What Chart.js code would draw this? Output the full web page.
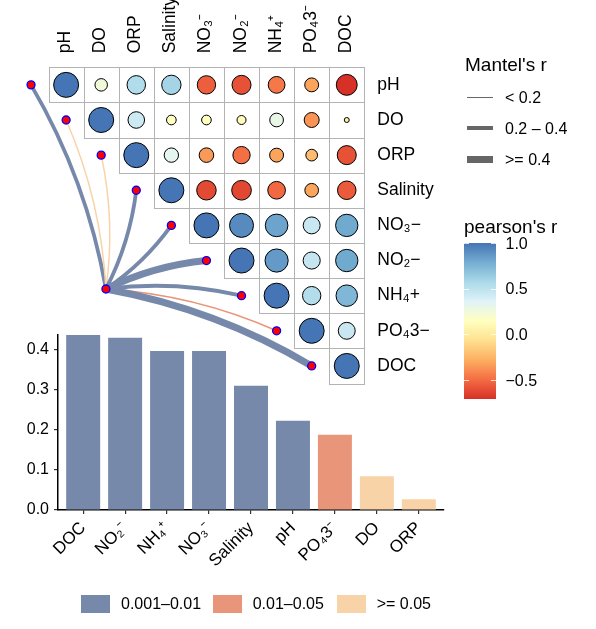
<!DOCTYPE html>
<html><head><meta charset="utf-8">
<script src="https://cdn.jsdelivr.net/npm/chart.js@4"></script>
<style>
html,body{margin:0;padding:0;background:#fff;}
#wrap{position:relative;width:596px;height:629px;overflow:hidden;font-family:'Liberation Sans',Arial,sans-serif;color:#000;}
canvas{position:absolute;left:0;top:0;}
.t{position:absolute;white-space:nowrap;line-height:1;}
</style></head>
<body><div id="wrap">
<canvas id="bars" width="512" height="629" style="width:512px;height:629px;z-index:1"></canvas>
<canvas id="mat" width="596" height="629" style="width:596px;height:629px;z-index:2"></canvas>
<div id="leg" style="position:absolute;left:0;top:0;width:596px;height:629px;z-index:3"></div>
</div>
<script>
// ---------- data ----------
const vars = ['pH','DO','ORP','Salinity','NO3','NO2','NH4','PO4','DOC'];
const colLabels = ['pH','DO','ORP','Salinity','NO₃⁻','NO₂⁻','NH₄⁺','PO₄3⁻','DOC'];
const rowLabels = ['pH','DO','ORP','Salinity','NO₃−','NO₂−','NH₄+','PO₄3−','DOC'];
// pearson's r, upper triangle, each row starts at the diagonal
const rPH  = [1, 0.25, 0.55, 0.60, -0.54, -0.58, -0.45, -0.31, -0.70];
const rDO  = [1, 0.44, 0.15, 0.15, 0.13, 0.30, -0.36, 0.04];
const rORP = [1, 0.33, -0.34, -0.48, -0.31, -0.22, -0.58];
const rSal = [1, -0.61, -0.62, -0.50, -0.30, -0.55];
const rNO3 = [1, 0.92, 0.82, 0.46, 0.80];
const rNO2 = [1, 0.86, 0.47, 0.80];
const rNH4 = [1, 0.54, 0.74];
const rPO4 = [1, 0.46];
const rDOC = [1];
const corrRows = [rPH, rDO, rORP, rSal, rNO3, rNO2, rNH4, rPO4, rDOC];
// Mantel test (matrix order)
const mantelR = [0.223, 0.084, 0.027, 0.310, 0.397, 0.430, 0.397, 0.188, 0.437];
const mantelP = ['0.001-0.01','>= 0.05','>= 0.05','0.001-0.01','0.001-0.01','0.001-0.01','0.001-0.01','0.01-0.05','0.001-0.01'];
// bar chart order
const barOrder  = ['DOC','NO2','NH4','NO3','Salinity','pH','PO4','DO','ORP'];
const barLabels = ['DOC','NO₂⁻','NH₄⁺','NO₃⁻','Salinity','pH','PO₄3⁻','DO','ORP'];
const barTicks = [0, 0.1, 0.2, 0.3, 0.4];
// legends
const pLevels = ['0.001-0.01','0.01-0.05','>= 0.05'];
const pLevelLabels = ['0.001–0.01','0.01–0.05','>= 0.05'];
const rClassLabels = ['< 0.2','0.2 – 0.4','>= 0.4'];
const colorTicks = [1.0, 0.5, 0.0, -0.5];

// ---------- styles ----------
const FONT = "'Liberation Sans', Arial, sans-serif";
const pColors = {'0.001-0.01':'#7789AB','0.01-0.05':'#E9957A','>= 0.05':'#F9D3A8'};
const stops = ['#d73027','#f46d43','#fdae61','#fee090','#ffffbf','#e0f3f8','#abd9e9','#74add1','#4575b4'];
const allR = corrRows.flat();
const cMin = Math.min(...allR), cMax = 1;
function hex(c){return [1,3,5].map(i=>parseInt(c.substr(i,2),16));}
function colorFor(v){
  let t=(v-cMin)/(cMax-cMin); t=Math.max(0,Math.min(1,t));
  const p=t*(stops.length-1); const i=Math.min(Math.floor(p),stops.length-2); const f=p-i;
  const a=hex(stops[i]), b=hex(stops[i+1]);
  return 'rgb('+a.map((c,k)=>Math.round(c+(b[k]-c)*f)).join(',')+')';
}
function widthFor(r){ return r<0.2?1.5:(r<0.4?3.8:7); }
const widthSamples = [0.1, 0.3, 0.5];
const HUB = {x:1.135, y:5.81};

// ---------- bar chart ----------
const barMax = Math.max(...mantelR);
new Chart(document.getElementById('bars'), {
  type:'bar',
  data:{datasets:[{
    data: barOrder.map((k,i)=>({x:i, y:mantelR[vars.indexOf(k)]})),
    backgroundColor: barOrder.map(k=>pColors[mantelP[vars.indexOf(k)]]),
    borderWidth:0, barPercentage:0.81, categoryPercentage:1
  }]},
  options:{
    responsive:false, animation:false, events:[],
    layout:{padding:{left:0,right:512-444,top:335,bottom:0}},
    plugins:{legend:{display:false},tooltip:{enabled:false}},
    scales:{
      x:{type:'linear', min:-0.6, max:8.6, offset:false,
        afterBuildTicks:s=>{s.ticks=barOrder.map((_,i)=>({value:i}));},
        afterFit:s=>{s.height=629-510;},
        ticks:{callback:v=>barLabels[v], minRotation:45, maxRotation:45, autoSkip:false,
          font:{family:FONT,size:17}, color:'#000', padding:4},
        grid:{offset:false, drawOnChartArea:false, drawTicks:true, tickLength:4, color:'#333', lineWidth:1.2},
        border:{display:true,color:'#000',width:1.5}},
      y:{min:0, max:barMax,
        afterBuildTicks:s=>{s.ticks=barTicks.map(v=>({value:v}));},
        afterFit:s=>{s.width=58;},
        ticks:{callback:v=>v.toFixed(1), font:{family:FONT,size:16}, color:'#000', padding:5},
        grid:{drawOnChartArea:false, drawTicks:true, tickLength:4, color:'#333', lineWidth:1.2},
        border:{display:true,color:'#000',width:1.5}}
    }
  }
});

// ---------- correlation matrix + Mantel links ----------
const cells=[];
corrRows.forEach((row,i)=>row.forEach((v,k)=>cells.push({x:i+k,y:i,v})));
const nodes = vars.map((_,i)=>({x:i-1,y:i})).concat([{x:HUB.x,y:HUB.y}]);

const matPlugin = {
  id:'matrixExtras',
  beforeDatasetsDraw(chart){
    const {ctx, scales:{x,y}} = chart;
    ctx.save();
    ctx.strokeStyle='#b3b3b3'; ctx.lineWidth=1;
    corrRows.forEach((row,i)=>row.forEach((v,k)=>{
      const j=i+k;
      const x0=Math.round(x.getPixelForValue(j-0.5))+0.5, x1=Math.round(x.getPixelForValue(j+0.5))+0.5;
      const y0=Math.round(y.getPixelForValue(i-0.5))+0.5, y1=Math.round(y.getPixelForValue(i+0.5))+0.5;
      ctx.fillStyle='#fff'; ctx.fillRect(x0,y0,x1-x0,y1-y0);
      ctx.strokeRect(x0,y0,x1-x0,y1-y0);
    }));
    const hx=x.getPixelForValue(HUB.x), hy=y.getPixelForValue(HUB.y);
    vars.forEach((_,i)=>{
      const px=x.getPixelForValue(i-1), py=y.getPixelForValue(i);
      const dx=px-hx, dy=py-hy, L=Math.hypot(dx,dy);
      const side = i<=4 ? 1 : -1;
      const k=0.09*L*side;
      const cx=(hx+px)/2 + (-dy/L)*k, cy=(hy+py)/2 + (dx/L)*k;
      ctx.beginPath(); ctx.moveTo(hx,hy); ctx.quadraticCurveTo(cx,cy,px,py);
      ctx.strokeStyle=pColors[mantelP[i]]; ctx.lineWidth=widthFor(mantelR[i]); ctx.lineCap='butt';
      ctx.stroke();
    });
    ctx.fillStyle='#000'; ctx.font='17.5px '+FONT; ctx.textAlign='left'; ctx.textBaseline='alphabetic';
    colLabels.forEach((t,j)=>{
      ctx.save();
      ctx.translate(x.getPixelForValue(j)+4, y.getPixelForValue(-0.5)-14);
      ctx.rotate(-Math.PI/2); ctx.fillText(t,0,0); ctx.restore();
    });
    ctx.restore();
  }
};

new Chart(document.getElementById('mat'), {
  type:'scatter',
  data:{datasets:[
    {data:nodes, clip:false, pointRadius:4, pointHoverRadius:4, backgroundColor:'#ff0000', borderColor:'#0000ff', borderWidth:1.3},
    {data:cells, clip:false,
      pointRadius:c=>c.raw?12.5*Math.sqrt(Math.abs(c.raw.v)):0,
      pointHoverRadius:c=>c.raw?12.5*Math.sqrt(Math.abs(c.raw.v)):0,
      backgroundColor:c=>c.raw?colorFor(c.raw.v):'#000', borderColor:'#000', borderWidth:1}
  ]},
  options:{
    responsive:false, animation:false, events:[],
    layout:{padding:{left:48.3-35.11,right:0,top:67.3,bottom:629-383.5}},
    plugins:{legend:{display:false},tooltip:{enabled:false}},
    scales:{
      x:{type:'linear',min:-1.5,max:8.5,display:false},
      y:{type:'linear',min:-0.5,max:8.5,reverse:true,position:'right',
        afterBuildTicks:s=>{s.ticks=rowLabels.map((_,i)=>({value:i}));},
        afterFit:s=>{s.width=596-364.3;},
        ticks:{callback:v=>rowLabels[v], font:{family:FONT,size:17.5}, color:'#000', padding:13},
        grid:{display:false, drawTicks:false}, border:{display:false}}
    }
  },
  plugins:[matPlugin]
});

// ---------- legends (HTML) ----------
const leg=document.getElementById('leg');
function txt(s,l,t,size){const d=document.createElement('div');d.className='t';d.textContent=s;d.style.left=l+'px';d.style.top=t+'px';d.style.fontSize=size+'px';leg.appendChild(d);return d;}
function box(l,t,w,h,bg){const d=document.createElement('div');d.style.cssText='position:absolute;left:'+l+'px;top:'+t+'px;width:'+w+'px;height:'+h+'px;background:'+bg;leg.appendChild(d);return d;}
// Mantel's r
txt("Mantel's r",465,54.6,19);
const lineYs=[97.3,128.3,159.3];
rClassLabels.forEach((s,i)=>{
  const w=widthFor(widthSamples[i]);
  box(467,lineYs[i]-w/2,26,w,'#666');
  txt(s,505,lineYs[i]-7.8,16);
});
// pearson's r colorbar
txt("pearson's r",464,216.5,19);
const cbTop=243.3, cbH=155.7;
box(464,cbTop,32,cbH,'linear-gradient(to bottom,'+stops.slice().reverse().join(',')+')');
colorTicks.forEach(v=>{
  const yy=cbTop+(cMax-v)/(cMax-cMin)*cbH;
  box(464,yy-0.5,5,1,'rgba(255,255,255,0.8)');
  box(491,yy-0.5,5,1,'rgba(255,255,255,0.8)');
  txt((v<0?'−':'')+Math.abs(v).toFixed(1),505.5,yy-7.8,16);
});
// bottom legend (p value)
const legXs=[81,212.7,336.7];
pLevels.forEach((p,i)=>{
  box(legXs[i],595,29,18,pColors[p]);
  txt(pLevelLabels[i],legXs[i]+40,596.2,16);
});
</script>
</body></html>
